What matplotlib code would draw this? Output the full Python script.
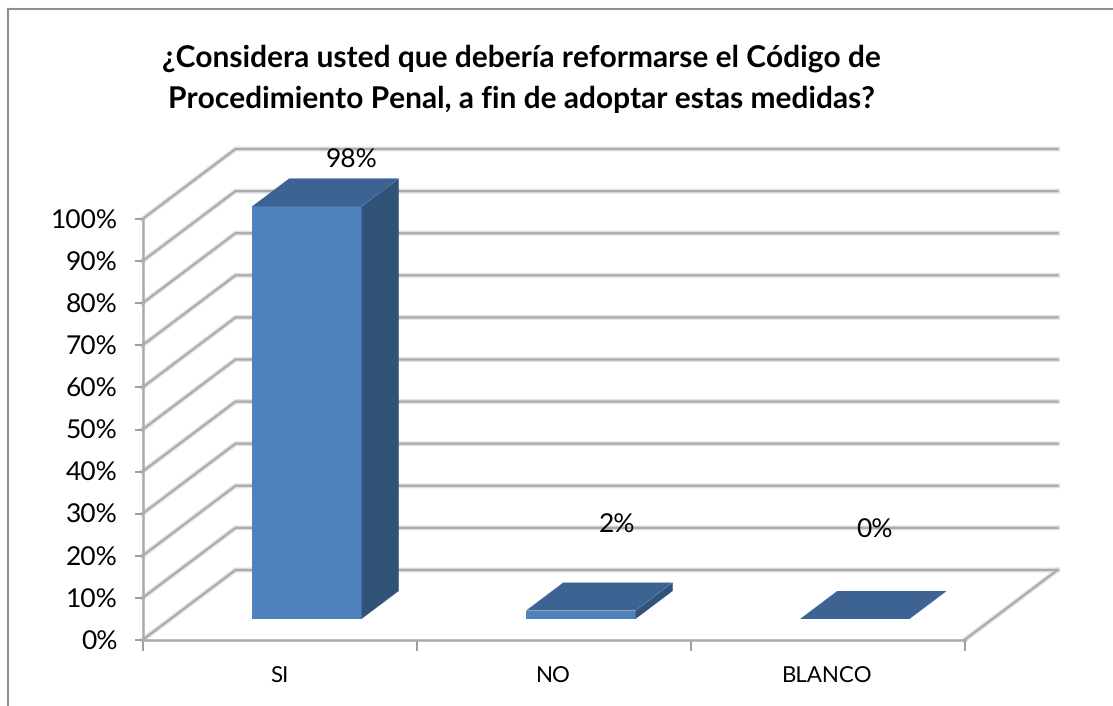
import matplotlib
matplotlib.use('Agg')
import matplotlib.pyplot as plt
from matplotlib.lines import Line2D
from matplotlib.patches import Polygon

plt.rcParams['font.family'] = ['Lato', 'DejaVu Sans']
plt.rcParams['text.hinting'] = 'no_hinting'

title = '¿Considera usted que debería reformarse el Código de\nProcedimiento Penal, a fin de adoptar estas medidas?'
categories = ['SI', 'NO', 'BLANCO']
values = [0.98, 0.02, 0.0]
value_labels = ['98%', '2%', '0%']
y_ticks = [0, 0.1, 0.2, 0.3, 0.4, 0.5, 0.6, 0.7, 0.8, 0.9, 1.0]
y_tick_labels = ['0%', '10%', '20%', '30%', '40%', '50%', '60%', '70%', '80%', '90%', '100%']

# pixel layout of the front plane
W, H = 1113, 706
left, right, top, bottom = 142.5, 964.5, 219, 640

fig = plt.figure(figsize=(W / 100, H / 100), dpi=100, facecolor='white')
ax = fig.add_axes([left / W, 1 - bottom / H, (right - left) / W, (bottom - top) / H])
ax.set_xlim(0, 3)
ax.set_ylim(0, 1)
ax.patch.set_visible(False)

# depth of the 3d box in data units
dx = 93 / ((right - left) / 3)
dy = 70 / (bottom - top)
grid_col = '#ababab'
grid_soft = '#e2e2e2'

# each line twice, the wide pale one gives the soft shadow of the original
for col, lw, z in [(grid_soft, 3.6, 1), (grid_col, 1.6, 2)]:
    for v in y_ticks:
        ax.plot([0, dx, 3 + dx], [v, v + dy, v + dy], color=col, lw=lw, clip_on=False, zorder=z)
    ax.plot([3, 3 + dx], [0, dy], color=col, lw=lw, clip_on=False, zorder=z)

# bars
front_col = '#4f81bd'
top_col = '#3c6391'
side_col = '#325378'
bar_start = 0.2977
bar_w = 0.4
d0 = 0.3
d1 = 0.7
for i, v in enumerate(values):
    x0 = i + bar_start
    x1 = x0 + bar_w
    fx = d0 * dx
    fy = d0 * dy
    bx = d1 * dx
    by = d1 * dy
    ax.add_patch(Polygon([(x0 + fx, fy), (x1 + fx, fy), (x1 + fx, fy + v), (x0 + fx, fy + v)],
                         fc=front_col, ec='none', clip_on=False, zorder=3))
    ax.add_patch(Polygon([(x1 + fx, fy), (x1 + bx, by), (x1 + bx, by + v), (x1 + fx, fy + v)],
                         fc=side_col, ec='none', clip_on=False, zorder=3))
    ax.add_patch(Polygon([(x0 + fx, fy + v), (x1 + fx, fy + v), (x1 + bx, by + v), (x0 + bx, by + v)],
                         fc=top_col, ec='none', clip_on=False, zorder=4))

# data labels sit where they were dragged in the original
label_x = [0.763, 1.73, 2.67]
label_y = [1.14, 0.272, 0.26]
for x, y, s in zip(label_x, label_y, value_labels):
    ax.text(x, y, s, ha='center', va='center', fontsize=19, color='black', zorder=5, clip_on=False)

# axes
for s in ['top', 'right']:
    ax.spines[s].set_visible(False)
for s in ['left', 'bottom']:
    ax.spines[s].set_color(grid_col)
    ax.spines[s].set_linewidth(1.8)
ax.set_yticks(y_ticks)
ax.set_yticklabels(y_tick_labels, fontsize=19, va='center_baseline')
ax.tick_params(axis='y', length=6, width=1.2, color='#8c8c8c', pad=12)
ax.set_xticks([0, 1, 2, 3])
ax.set_xticklabels([])
ax.set_xticks([0.5, 1.5, 2.5], minor=True)
ax.set_xticklabels(categories, minor=True, fontsize=16)
ax.tick_params(axis='x', which='major', length=8, width=1.2, color='#8c8c8c')
ax.tick_params(axis='x', which='minor', length=0, pad=19.5)

fig.text(521 / W, 1 - 79 / H, title, ha='center', va='center', fontsize=21.5, fontweight='bold',
         linespacing=1.62, color='black')

# chart frame, cut off at right and bottom
frame = '#8f8f8f'
fig.add_artist(Line2D([8 / W, 8 / W], [0, 1 - 9 / H], color=frame, lw=1.5))
fig.add_artist(Line2D([8 / W, 1], [1 - 9 / H, 1 - 9 / H], color=frame, lw=1.5))

fig.savefig('out.png', dpi=100)
